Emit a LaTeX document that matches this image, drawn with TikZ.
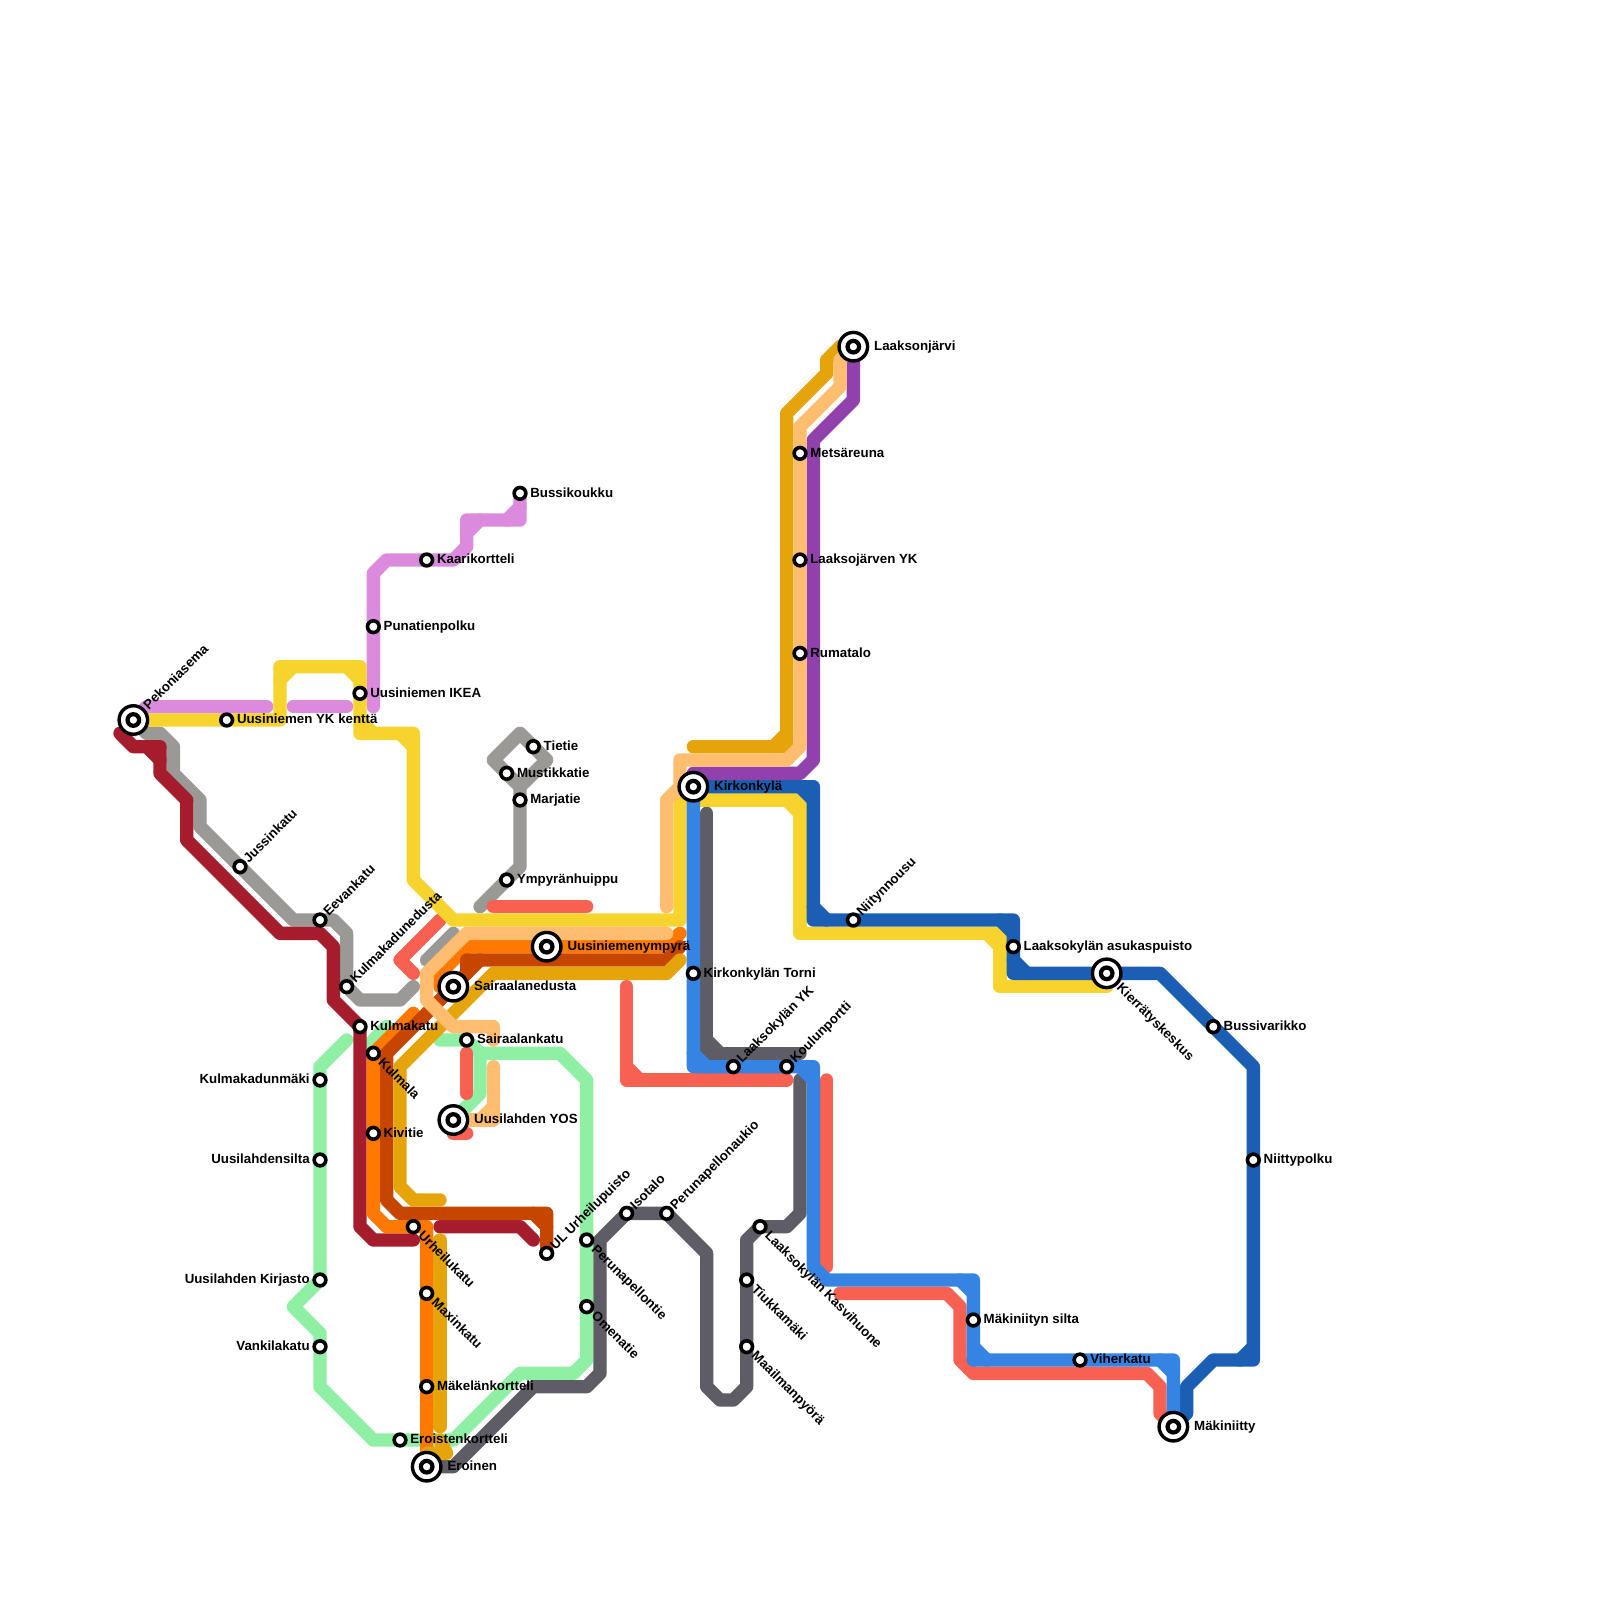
\documentclass[tikz,border=0pt]{standalone}
\usepackage{xcolor}
\usepackage{fontspec}
\setmainfont{Liberation Sans}
\definecolor{lineYellow}{HTML}{F6D32D}
\definecolor{linePink}{HTML}{DC8ADD}
\definecolor{lineStone}{HTML}{9A9996}
\definecolor{lineCrimson}{HTML}{A51D2D}
\definecolor{lineMint}{HTML}{8FF0A4}
\definecolor{lineOrange}{HTML}{FF7800}
\definecolor{lineRust}{HTML}{C64600}
\definecolor{lineGold}{HTML}{E5A50A}
\definecolor{linePeach}{HTML}{FFBE6F}
\definecolor{lineCoral}{HTML}{F66151}
\definecolor{lineBlue}{HTML}{3584E4}
\definecolor{lineNavy}{HTML}{1A5FB4}
\definecolor{linePurple}{HTML}{9141AC}
\definecolor{lineSlate}{HTML}{5E5C64}
\usepackage{tikz}
\usetikzlibrary{positioning}
\pgfdeclarelayer{routes}
\pgfsetlayers{routes,main}

\begin{document}
\begin{tikzpicture}[
    x=13.333pt, y=-13.333pt,
    font=\fontsize{13.3}{14}\selectfont\bfseries,
    route/.style={line width=13.333pt, line cap=round, line join=round},
    stopNode/.style={circle, draw=black, fill=white, line width=3.6pt, minimum size=11.7pt, inner sep=0pt},
    hubNode/.style={circle, draw=black, fill=white, line width=3.4pt, minimum size=28.5pt, inner sep=0pt,
        path picture={\draw[line width=4.2pt] (path picture bounding box.center) circle (5.8pt);}},
    lblNode/.style={inner sep=0pt, text height=9.6pt, text depth=0pt, yshift=1pt},
    lblUp/.style={lblNode, rotate=45, anchor=west, xshift=#1},
    lblUp/.default=7.5pt,
    lblDown/.style={lblNode, rotate=-45, anchor=west, xshift=#1},
    lblDown/.default=10.7pt
]
\useasboundingbox (0,0) rectangle (120,120);

% Hubs
\node[hubNode] (pekoniasema) at (10,54) {};
\node[hubNode] (uusiniemenympyra) at (41,71) {};
\node[hubNode] (sairaalanedusta) at (34,74) {};
\node[hubNode] (uusilahdenyos) at (34,84) {};
\node[hubNode] (eroinen) at (32,110) {};
\node[hubNode] (kirkonkyla) at (52,59) {};
\node[hubNode] (laaksonjarvi) at (64,26) {};
\node[hubNode] (kierratys) at (83,73) {};
\node[hubNode] (makiniitty) at (88,107) {};

% Stops
\node[stopNode] (ykkentta) at (17,54) {};
\node[stopNode] (punatienpolku) at (28,47) {};
\node[stopNode] (ikea) at (27,52) {};
\node[stopNode] (kaarikortteli) at (32,42) {};
\node[stopNode] (bussikoukku) at (39,37) {};
\node[stopNode] (tietie) at (40,56) {};
\node[stopNode] (mustikkatie) at (38,58) {};
\node[stopNode] (marjatie) at (39,60) {};
\node[stopNode] (ympyranhuippu) at (38,66) {};
\node[stopNode] (jussinkatu) at (18,65) {};
\node[stopNode] (eevankatu) at (24,69) {};
\node[stopNode] (kulmakadunedusta) at (26,74) {};
\node[stopNode] (kulmakatu) at (27,77) {};
\node[stopNode] (sairaalankatu) at (35,78) {};
\node[stopNode] (kulmala) at (28,79) {};
\node[stopNode] (kulmakadunmaki) at (24,81) {};
\node[stopNode] (kivitie) at (28,85) {};
\node[stopNode] (uusilahdensilta) at (24,87) {};
\node[stopNode] (kirjasto) at (24,96) {};
\node[stopNode] (vankilakatu) at (24,101) {};
\node[stopNode] (urheilukatu) at (31,92) {};
\node[stopNode] (maxinkatu) at (32,97) {};
\node[stopNode] (makelankortteli) at (32,104) {};
\node[stopNode] (eroistenkortteli) at (30,108) {};
\node[stopNode] (ulpuisto) at (41,94) {};
\node[stopNode] (perunapellontie) at (44,93) {};
\node[stopNode] (omenatie) at (44,98) {};
\node[stopNode] (isotalo) at (47,91) {};
\node[stopNode] (perunaaukio) at (50,91) {};
\node[stopNode] (kasvihuone) at (57,92) {};
\node[stopNode] (tiukkamaki) at (56,96) {};
\node[stopNode] (maailmanpyora) at (56,101) {};
\node[stopNode] (torni) at (52,73) {};
\node[stopNode] (laaksokylanyk) at (55,80) {};
\node[stopNode] (koulunportti) at (59,80) {};
\node[stopNode] (metsareuna) at (60,34) {};
\node[stopNode] (laaksojarvenyk) at (60,42) {};
\node[stopNode] (rumatalo) at (60,49) {};
\node[stopNode] (niitynnousu) at (64,69) {};
\node[stopNode] (asukaspuisto) at (76,71) {};
\node[stopNode] (bussivarikko) at (91,77) {};
\node[stopNode] (niittypolku) at (94,87) {};
\node[stopNode] (makiniitynsilta) at (73,99) {};
\node[stopNode] (viherkatu) at (81,102) {};

\begin{pgfonlayer}{routes}
\fill[white] (0,0) rectangle (120,120);
% Mint
\draw[route, lineMint] (26,78) -- (24,80) -- (kulmakadunmaki.center) -- (kirjasto.center) -- (22,98) -- (24,100) -- (24,104) -- (28,108) -- (34,108) -- (39,103) -- (43,103) -- (44,102) -- (perunapellontie.center) -- (44,81) -- (42,79) -- (36,79) -- (36,82) -- (uusilahdenyos.center);
\draw[route, lineMint] (33,78) -- (35,78) -- (36,79);
\draw[route, lineMint] (27,78) -- (kulmala.center);
\draw[route, lineMint] (28,78) -- (29,77);

% Stone
\draw[route, lineStone] (pekoniasema.center) -- (11,55) -- (12,55) -- (13,56) -- (13,58) -- (15,60) -- (15,62) -- (22,69) -- (25,69) -- (26,70) -- (26,74) -- (27,75) -- (30,75) -- (31,74);
\draw[route, lineStone] (36,68) -- (39,65) -- (39,59) -- (37,57) -- (39,55) -- (41,57) -- (39,59);
\draw[route, lineStone] (32,72) -- (34,70);

% Slate
\draw[route, lineSlate] (eroinen.center) -- (34,110) -- (40,104) -- (44,104) -- (45,103) -- (45,93) -- (47,91) -- (50,91) -- (53,94) -- (53,104) -- (54,105) -- (55,105) -- (56,104) -- (56,93) -- (57,92) -- (59,92) -- (60,91) -- (60,81);
\draw[route, lineSlate] (53,61) -- (53,79) -- (60,79);
\draw[route, lineSlate] (53,78) -- (54,79);

% Coral
\draw[route, lineCoral] (37,68) -- (44,68);
\draw[route, lineCoral] (33,69) -- (30,72) -- (31,73);
\draw[route, lineCoral] (35,79) -- (35,82);
\draw[route, lineCoral] (34,85) -- (35,85);
\draw[route, lineCoral] (47,74) -- (47,81) -- (59,81);
\draw[route, lineCoral] (47,80) -- (48,81);
\draw[route, lineCoral] (62,81) -- (62,95);
\draw[route, lineCoral] (63,97) -- (71,97) -- (72,98) -- (72,102) -- (73,103) -- (86,103) -- (87,104) -- (87,106) -- (makiniitty.center);

% Pink
\draw[route, linePink] (pekoniasema.center) -- (11,53) -- (20,53);
\draw[route, linePink] (22,53) -- (26,53);
\draw[route, linePink] (28,53) -- (28,43) -- (29,42) -- (34,42) -- (35,41) -- (35,39) -- (39,39) -- (bussikoukku.center);
\draw[route, linePink] (35,40) -- (36,39);
\draw[route, linePink] (38,39) -- (39,38);

% Yellow
\draw[route, lineYellow] (pekoniasema.center) -- (21,54) -- (21,50) -- (27,50) -- (27,55) -- (31,55) -- (31,66) -- (34,69) -- (51,69) -- (51,60) -- (kirkonkyla.center);
\draw[route, lineYellow] (21,51) -- (22,50);
\draw[route, lineYellow] (26,50) -- (27,51);
\draw[route, lineYellow] (27,54) -- (28,55);
\draw[route, lineYellow] (30,55) -- (31,56);
\draw[route, lineYellow] (52,60) -- (60,60) -- (60,70) -- (75,70) -- (75,74) -- (83,74);
\draw[route, lineYellow] (59,60) -- (60,61);
\draw[route, lineYellow] (74,70) -- (75,71);

% Purple
\draw[route, linePurple] (laaksonjarvi.center) -- (64,30) -- (61,33) -- (61,57) -- (60,58) -- (52,58) -- (kirkonkyla.center);

% Navy
\draw[route, lineNavy] (kirkonkyla.center) -- (61,59) -- (61,69) -- (76,69) -- (76,73) -- (87,73) -- (94,80) -- (94,102) -- (91,102) -- (89,104) -- (89,106) -- (makiniitty.center);
\draw[route, lineNavy] (60,59) -- (61,60);
\draw[route, lineNavy] (61,68) -- (62,69);
\draw[route, lineNavy] (75,69) -- (76,70);
\draw[route, lineNavy] (76,72) -- (77,73);
\draw[route, lineNavy] (93,102) -- (94,101);

% Blue
\draw[route, lineBlue] (kirkonkyla.center) -- (52,80) -- (61,80) -- (61,95) -- (62,96) -- (73,96) -- (73,102) -- (88,102) -- (makiniitty.center);
\draw[route, lineBlue] (52,79) -- (53,80);
\draw[route, lineBlue] (60,80) -- (61,81);
\draw[route, lineBlue] (72,96) -- (73,97);
\draw[route, lineBlue] (73,101) -- (74,102);
\draw[route, lineBlue] (87,102) -- (88,103);

% Crimson
\draw[route, lineCrimson] (9,55) -- (10,56) -- (12,56) -- (12,58) -- (14,60) -- (14,63) -- (21,70) -- (24,70) -- (25,71) -- (25,75) -- (kulmakatu.center) -- (27,92) -- (28,93) -- (31,93);
\draw[route, lineCrimson] (11,56) -- (12,57);
\draw[route, lineCrimson] (33,92) -- (39,92) -- (40,93);

% Orange
\draw[route, lineOrange] (31,76) -- (28,79) -- (28,91) -- (29,92) -- (32,92) -- (eroinen.center);
\draw[route, lineOrange] (sairaalanedusta.center) -- (33,74) -- (33,73) -- (35,71) -- (50,71) -- (51,70);

% Rust
\draw[route, lineRust] (51,71) -- (50,72) -- (35,72) -- (35,73) -- (29,79) -- (29,90) -- (30,91) -- (41,91) -- (ulpuisto.center);
\draw[route, lineRust] (35,73) -- (36,72);
\draw[route, lineRust] (40,91) -- (41,92);

% Gold
\draw[route, lineGold] (51,72) -- (50,73) -- (37,73) -- (30,80) -- (30,89) -- (31,90) -- (33,90);
\draw[route, lineGold] (33,93) -- (33,107);
\draw[route, lineGold] (32,109) -- (33.5,109) -- (33,108);
\draw[route, lineGold] (52,56) -- (59,56) -- (59,31) -- (62,28) -- (62,27) -- (63,26) -- (laaksonjarvi.center);
\draw[route, lineGold] (58,56) -- (59,55);

% Peach
\draw[route, linePeach] (37,78) -- (37,77) -- (34,77) -- (32,75) -- (32,73) -- (35,70) -- (50,70);
\draw[route, linePeach] (37,80) -- (37,84) -- (uusilahdenyos.center);
\draw[route, linePeach] (36,84) -- (37,83);
\draw[route, linePeach] (50,68) -- (50,60) -- (51,59) -- (51,57) -- (59,57) -- (60,56) -- (60,32) -- (63,29) -- (63,27) -- (laaksonjarvi.center);
\end{pgfonlayer}

% Labels
\node[lblUp=17pt] (lblPekoniasema) at (pekoniasema) {Pekoniasema};
\node[lblNode, right=2.5pt of ykkentta] (lblYkkentta) {Uusiniemen YK kenttä};
\node[lblNode, right=2.5pt of punatienpolku] (lblPunatienpolku) {Punatienpolku};
\node[lblNode, right=2.5pt of ikea] (lblIkea) {Uusiniemen IKEA};
\node[lblNode, right=2.5pt of kaarikortteli] (lblKaarikortteli) {Kaarikortteli};
\node[lblNode, right=2.5pt of bussikoukku] (lblBussikoukku) {Bussikoukku};
\node[lblNode, right=2.5pt of tietie] (lblTietie) {Tietie};
\node[lblNode, right=2.5pt of mustikkatie] (lblMustikkatie) {Mustikkatie};
\node[lblNode, right=2.5pt of marjatie] (lblMarjatie) {Marjatie};
\node[lblNode, right=2.5pt of ympyranhuippu] (lblYmpyranhuippu) {Ympyränhuippu};
\node[lblUp] (lblJussinkatu) at (jussinkatu) {Jussinkatu};
\node[lblUp] (lblEevankatu) at (eevankatu) {Eevankatu};
\node[lblUp] (lblKulmakadunedusta) at (kulmakadunedusta) {Kulmakadunedusta};
\node[lblNode, right=2.5pt of kulmakatu] (lblKulmakatu) {Kulmakatu};
\node[lblNode, right=2.5pt of sairaalankatu] (lblSairaalankatu) {Sairaalankatu};
\node[lblDown] (lblKulmala) at (kulmala) {Kulmala};
\node[lblNode, left=2.5pt of kulmakadunmaki] (lblKulmakadunmaki) {Kulmakadunmäki};
\node[lblNode, right=2.5pt of kivitie] (lblKivitie) {Kivitie};
\node[lblNode, left=2.5pt of uusilahdensilta] (lblUusilahdensilta) {Uusilahdensilta};
\node[lblNode, left=2.5pt of kirjasto] (lblKirjasto) {Uusilahden Kirjasto};
\node[lblNode, left=2.5pt of vankilakatu] (lblVankilakatu) {Vankilakatu};
\node[lblDown] (lblUrheilukatu) at (urheilukatu) {Urheilukatu};
\node[lblDown] (lblMaxinkatu) at (maxinkatu) {Maxinkatu};
\node[lblNode, right=2.5pt of makelankortteli] (lblMakelankortteli) {Mäkelänkortteli};
\node[lblNode, right=2.5pt of eroistenkortteli] (lblEroistenkortteli) {Eroistenkortteli};
\node[lblUp] (lblUlpuisto) at (ulpuisto) {UL Urheilupuisto};
\node[lblDown] (lblPerunapellontie) at (perunapellontie) {Perunapellontie};
\node[lblDown] (lblOmenatie) at (omenatie) {Omenatie};
\node[lblUp] (lblIsotalo) at (isotalo) {Isotalo};
\node[lblUp] (lblPerunaaukio) at (perunaaukio) {Perunapellonaukio};
\node[lblDown] (lblKasvihuone) at (kasvihuone) {Laaksokylän Kasvihuone};
\node[lblDown] (lblTiukkamaki) at (tiukkamaki) {Tiukkamäki};
\node[lblDown] (lblMaailmanpyora) at (maailmanpyora) {Maailmanpyörä};
\node[lblNode, right=2.5pt of torni] (lblTorni) {Kirkonkylän Torni};
\node[lblUp] (lblLaaksokylanyk) at (laaksokylanyk) {Laaksokylän YK};
\node[lblUp] (lblKoulunportti) at (koulunportti) {Koulunportti};
\node[lblNode, right=2.5pt of metsareuna] (lblMetsareuna) {Metsäreuna};
\node[lblNode, right=2.5pt of laaksojarvenyk] (lblLaaksojarvenyk) {Laaksojärven YK};
\node[lblNode, right=2.5pt of rumatalo] (lblRumatalo) {Rumatalo};
\node[lblUp] (lblNiitynnousu) at (niitynnousu) {Niitynnousu};
\node[lblNode, right=2.5pt of asukaspuisto] (lblAsukaspuisto) {Laaksokylän asukaspuisto};
\node[lblNode, right=2.5pt of bussivarikko] (lblBussivarikko) {Bussivarikko};
\node[lblNode, right=2.5pt of niittypolku] (lblNiittypolku) {Niittypolku};
\node[lblNode, right=2.5pt of makiniitynsilta] (lblMakiniitynsilta) {Mäkiniityn silta};
\node[lblNode, right=2.5pt of viherkatu] (lblViherkatu) {Viherkatu};
\node[lblNode, right=4.7pt of uusiniemenympyra] (lblUusiniemenympyra) {Uusiniemenympyrä};
\node[lblNode, right=4.7pt of sairaalanedusta] (lblSairaalanedusta) {Sairaalanedusta};
\node[lblNode, right=4.7pt of uusilahdenyos] (lblUusilahdenyos) {Uusilahden YOS};
\node[lblNode, right=4.7pt of eroinen] (lblEroinen) {Eroinen};
\node[lblNode, right=4.7pt of kirkonkyla] (lblKirkonkyla) {Kirkonkylä};
\node[lblNode, right=4.7pt of laaksonjarvi] (lblLaaksonjarvi) {Laaksonjärvi};
\node[lblDown=18pt] (lblKierratys) at (kierratys) {Kierrätyskeskus};
\node[lblNode, right=4.7pt of makiniitty] (lblMakiniitty) {Mäkiniitty};

\end{tikzpicture}
\end{document}
